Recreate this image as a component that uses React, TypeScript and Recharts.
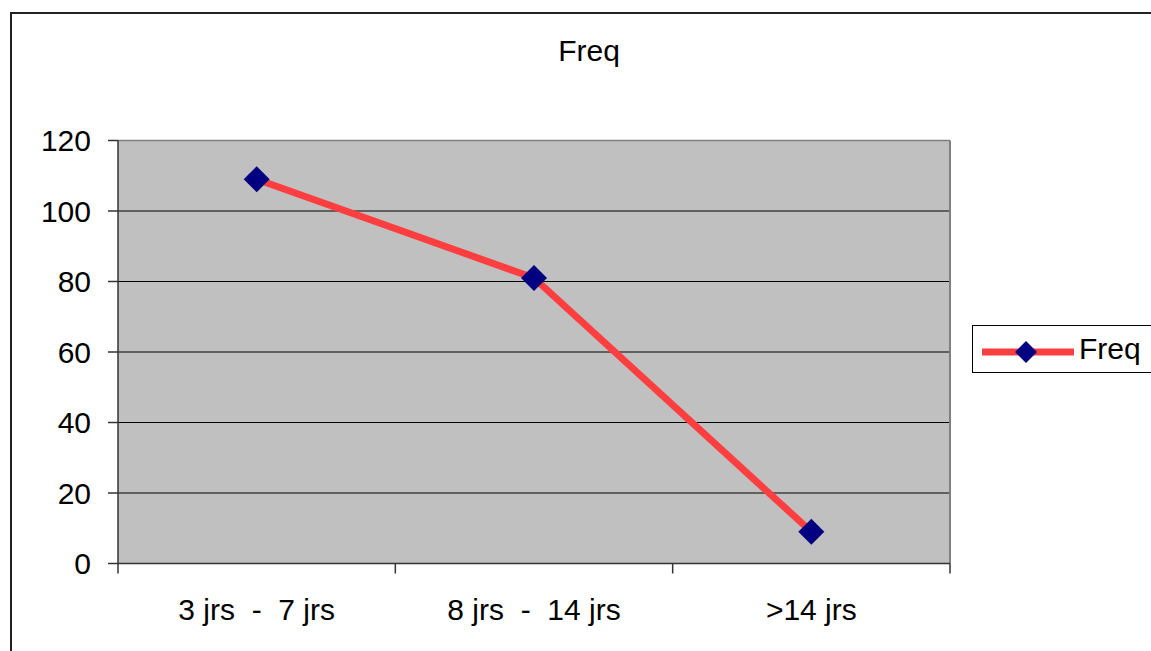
import { LineChart, Line, XAxis, YAxis, CartesianGrid, Legend, ReferenceLine } from 'recharts';

// extra gaps around the dash are non-breaking so Text keeps them
const categories = ['3 jrs\u00a0 -\u00a0 7 jrs', '8 jrs\u00a0 -\u00a0 14 jrs', '>14 jrs'];
const freq = [109, 81, 9];
const yTicks = [0, 20, 40, 60, 80, 100, 120];

// slot = middle of each category on the numeric edge axis
const data = categories.map((label, i) => ({ label, slot: i + 0.5, freq: freq[i] }));
// tick marks sit between categories, on the band edges
const edges = categories.map((_, i) => i).concat(categories.length);

const FONT = '"Liberation Sans", Arial, sans-serif';
const LINE_COLOR = '#ff3f3f';
const MARKER_COLOR = '#000080';

const Diamond = ({ cx, cy, size = 13 }: { cx?: number; cy?: number; size?: number }) => {
    if (cx == null || cy == null) return null;
    return (
        <polygon
            points={`${cx},${cy - size} ${cx + size},${cy} ${cx},${cy + size} ${cx - size},${cy}`}
            fill={MARKER_COLOR}
        />
    );
};

const LegendBox = () => (
    <div
        style={{
            border: '1px solid #000',
            height: 46,
            width: 220,
            display: 'flex',
            alignItems: 'center',
            background: '#fff',
            fontFamily: FONT,
            fontSize: 30,
            color: '#000',
        }}
    >
        <svg width={106} height={46}>
            <line x1={9} x2={101} y1={26} y2={26} stroke={LINE_COLOR} strokeWidth={7} />
            <Diamond cx={53} cy={26} size={11} />
        </svg>
        <span>Freq</span>
    </div>
);

export default function App() {
    return (
        <div
            style={{
                position: 'fixed',
                left: 0,
                top: 0,
                width: 1151,
                height: 651,
                overflow: 'hidden',
                background: '#fff',
                fontFamily: FONT,
            }}
        >
            <div
                style={{
                    position: 'absolute',
                    left: 10,
                    top: 12,
                    width: 1200,
                    height: 700,
                    border: '2px solid #222',
                }}
            />
            <div
                style={{
                    position: 'absolute',
                    left: 489,
                    top: 34,
                    width: 200,
                    textAlign: 'center',
                    fontSize: 30,
                    color: '#000',
                }}
            >
                Freq
            </div>
            <LineChart
                width={1151}
                height={651}
                data={data}
                margin={{ top: 140.5, right: 201, bottom: 17.5, left: 18 }}
                style={{ position: 'absolute', left: 0, top: 0 }}
            >
                <CartesianGrid
                    xAxisId="b-labels"
                    vertical={false}
                    fill="#c0c0c0"
                    fillOpacity={1}
                    stroke="#000"
                    strokeWidth={1}
                />
                <XAxis
                    xAxisId="a-edges"
                    dataKey="slot"
                    type="number"
                    domain={[0, categories.length]}
                    allowDataOverflow
                    ticks={edges}
                    interval={0}
                    tickFormatter={() => ''}
                    tickSize={10}
                    height={10}
                    axisLine={{ stroke: '#333', strokeWidth: 1.5 }}
                    tickLine={{ stroke: '#333', strokeWidth: 1.5 }}
                />
                <XAxis
                    xAxisId="b-labels"
                    dataKey="label"
                    type="category"
                    scale="band"
                    interval={0}
                    axisLine={false}
                    tickLine={false}
                    tickSize={0}
                    tickMargin={25}
                    height={60}
                    tick={{ fill: '#000', fontSize: 30, fontFamily: FONT }}
                />
                <YAxis
                    domain={[0, 120]}
                    ticks={yTicks}
                    width={100}
                    tickSize={10}
                    tickMargin={17}
                    axisLine={{ stroke: '#333', strokeWidth: 1.5 }}
                    tickLine={{ stroke: '#333', strokeWidth: 1.5 }}
                    tick={{ fill: '#000', fontSize: 30, fontFamily: FONT }}
                />
                <ReferenceLine xAxisId="b-labels" y={120} stroke="#808080" strokeWidth={1.5} />
                <ReferenceLine xAxisId="a-edges" x={categories.length} stroke="#808080" strokeWidth={2} />
                <Legend
                    layout="horizontal"
                    align="center"
                    verticalAlign="middle"
                    wrapperStyle={{ left: 972, top: 325, width: 222 }}
                    content={() => <LegendBox />}
                />
                <Line
                    xAxisId="b-labels"
                    dataKey="freq"
                    name="Freq"
                    stroke={LINE_COLOR}
                    strokeWidth={7}
                    dot={(p: any) => <Diamond key={p.index} cx={p.cx} cy={p.cy} />}
                    activeDot={false}
                    isAnimationActive={false}
                />
            </LineChart>
        </div>
    );
}
